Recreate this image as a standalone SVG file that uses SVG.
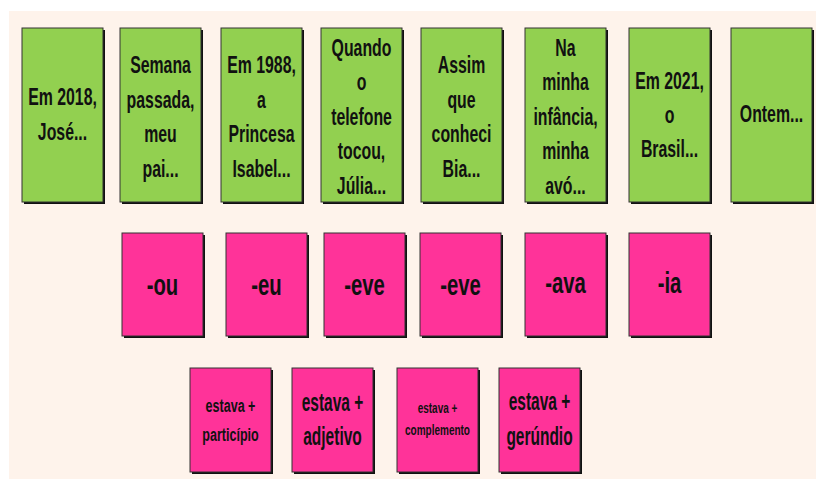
<svg xmlns="http://www.w3.org/2000/svg" width="816" height="479" viewBox="0 0 816 479">
<style>
.bg{fill:#FEF3EB}
.sh{fill:#111111}
.g{fill:#92D050;stroke:#333333;stroke-width:1}
.p{fill:#FF3399;stroke:#333333;stroke-width:1}
text{font-family:"Liberation Sans",Arial,sans-serif;font-weight:bold;fill:#111111;text-anchor:middle}
.tg{font-size:24px}
.tp{font-size:29px}
</style>
<rect class="bg" x="9" y="11" width="807" height="468"/>
<g id="connectors"/>
<g id="card-g1"><rect class="sh" x="24" y="30" width="81" height="174"/><rect class="g" x="22" y="28" width="81" height="174"/>
<text class="tg" transform="translate(62.5 0) scale(0.66 1)"><tspan x="0" y="105">Em 2018,</tspan><tspan x="0" y="140">José...</tspan></text></g>
<g id="card-g2"><rect class="sh" x="122" y="30" width="81" height="174"/><rect class="g" x="120" y="28" width="81" height="174"/>
<text class="tg" transform="translate(160.5 0) scale(0.66 1)"><tspan x="0" y="73">Semana</tspan><tspan x="0" y="108">passada,</tspan><tspan x="0" y="142">meu</tspan><tspan x="0" y="177">pai...</tspan></text></g>
<g id="card-g3"><rect class="sh" x="223" y="30" width="81" height="174"/><rect class="g" x="221" y="28" width="81" height="174"/>
<text class="tg" transform="translate(261.5 0) scale(0.66 1)"><tspan x="0" y="73">Em 1988,</tspan><tspan x="0" y="108">a</tspan><tspan x="0" y="142">Princesa</tspan><tspan x="0" y="177">Isabel...</tspan></text></g>
<g id="card-g4"><rect class="sh" x="323" y="30" width="81" height="174"/><rect class="g" x="321" y="28" width="81" height="174"/>
<text class="tg" transform="translate(361.5 0) scale(0.66 1)"><tspan x="0" y="56">Quando</tspan><tspan x="0" y="90.5">o</tspan><tspan x="0" y="125">telefone</tspan><tspan x="0" y="159.5">tocou,</tspan><tspan x="0" y="194">Júlia...</tspan></text></g>
<g id="card-g5"><rect class="sh" x="423" y="30" width="81" height="174"/><rect class="g" x="421" y="28" width="81" height="174"/>
<text class="tg" transform="translate(461.5 0) scale(0.66 1)"><tspan x="0" y="73">Assim</tspan><tspan x="0" y="108">que</tspan><tspan x="0" y="142">conheci</tspan><tspan x="0" y="177">Bia...</tspan></text></g>
<g id="card-g6"><rect class="sh" x="527" y="30" width="81" height="174"/><rect class="g" x="525" y="28" width="81" height="174"/>
<text class="tg" transform="translate(565.5 0) scale(0.66 1)"><tspan x="0" y="56">Na</tspan><tspan x="0" y="90.5">minha</tspan><tspan x="0" y="125">infância,</tspan><tspan x="0" y="159.5">minha</tspan><tspan x="0" y="194">avó...</tspan></text></g>
<g id="card-g7"><rect class="sh" x="631" y="30" width="81" height="174"/><rect class="g" x="629" y="28" width="81" height="174"/>
<text class="tg" transform="translate(669.5 0) scale(0.66 1)"><tspan x="0" y="89">Em 2021,</tspan><tspan x="0" y="123">o</tspan><tspan x="0" y="157">Brasil...</tspan></text></g>
<g id="card-g8"><rect class="sh" x="733" y="30" width="81" height="174"/><rect class="g" x="731" y="28" width="81" height="174"/>
<text class="tg" transform="translate(771.5 0) scale(0.66 1)"><tspan x="0" y="122">Ontem...</tspan></text></g>

<g id="card-p1"><rect class="sh" x="124" y="235" width="81" height="103"/><rect class="p" x="122" y="233" width="81" height="103"/>
<text class="tp" transform="translate(162.5 295) scale(0.7 1)">-ou</text></g>
<g id="card-p2"><rect class="sh" x="228" y="235" width="81" height="103"/><rect class="p" x="226" y="233" width="81" height="103"/>
<text class="tp" transform="translate(266.5 295) scale(0.7 1)">-eu</text></g>
<g id="card-p3"><rect class="sh" x="326" y="235" width="81" height="103"/><rect class="p" x="324" y="233" width="81" height="103"/>
<text class="tp" transform="translate(364.5 295) scale(0.7 1)">-eve</text></g>
<g id="card-p4"><rect class="sh" x="422" y="235" width="81" height="103"/><rect class="p" x="420" y="233" width="81" height="103"/>
<text class="tp" transform="translate(460.5 295) scale(0.7 1)">-eve</text></g>
<g id="card-p5"><rect class="sh" x="527" y="235" width="81" height="103"/><rect class="p" x="525" y="233" width="81" height="103"/>
<text class="tp" transform="translate(565.5 293) scale(0.7 1)">-ava</text></g>
<g id="card-p6"><rect class="sh" x="631" y="235" width="81" height="103"/><rect class="p" x="629" y="233" width="81" height="103"/>
<text class="tp" transform="translate(669.5 293) scale(0.7 1)">-ia</text></g>

<g id="card-e1"><rect class="sh" x="192" y="370" width="81" height="104"/><rect class="p" x="190" y="368" width="81" height="104"/>
<text font-size="19" transform="translate(230.5 0) scale(0.66 1)"><tspan x="0" y="412">estava +</tspan><tspan x="0" y="441">particípio</tspan></text></g>
<g id="card-e2"><rect class="sh" x="294" y="370" width="81" height="104"/><rect class="p" x="292" y="368" width="81" height="104"/>
<text font-size="25" transform="translate(332.5 0) scale(0.62 1)"><tspan x="0" y="411">estava +</tspan><tspan x="0" y="445">adjetivo</tspan></text></g>
<g id="card-e3"><rect class="sh" x="399" y="370" width="81" height="104"/><rect class="p" x="397" y="368" width="81" height="104"/>
<text font-size="14.5" transform="translate(437.5 0) scale(0.69 1)"><tspan x="0" y="413">estava +</tspan><tspan x="0" y="435">complemento</tspan></text></g>
<g id="card-e4"><rect class="sh" x="501" y="370" width="81" height="104"/><rect class="p" x="499" y="368" width="81" height="104"/>
<text font-size="25" transform="translate(539.5 0) scale(0.62 1)"><tspan x="0" y="410">estava +</tspan><tspan x="0" y="445">gerúndio</tspan></text></g>
</svg>
